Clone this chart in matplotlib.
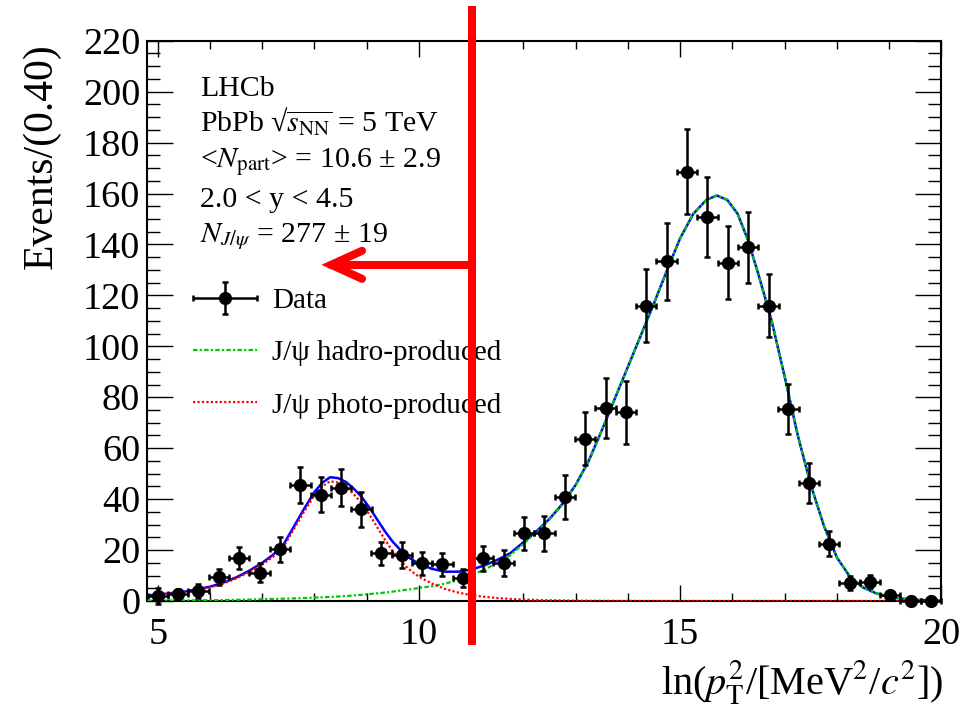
import numpy as np
import matplotlib
matplotlib.use('Agg')
import matplotlib.pyplot as plt
from matplotlib.ticker import MultipleLocator
from matplotlib.legend_handler import HandlerErrorbar
from matplotlib.container import ErrorbarContainer

plt.rcParams['font.family'] = ['Liberation Serif', 'DejaVu Serif']
plt.rcParams['mathtext.fontset'] = 'stix'

# data points (bin centres, counts, errors)
bin_x = [5.00, 5.39, 5.78, 6.17, 6.56, 6.95, 7.34, 7.73, 8.12, 8.51,
         8.90, 9.28, 9.67, 10.06, 10.45, 10.84, 11.23, 11.62, 12.01, 12.40,
         12.79, 13.18, 13.57, 13.96, 14.35, 14.74, 15.13, 15.52, 15.91, 16.30,
         16.69, 17.07, 17.46, 17.85, 18.24, 18.63, 19.02, 19.41, 19.80]
counts = [2.0, 2.6, 3.9, 9.3, 17.0, 11.1, 20.3, 45.5, 41.8, 44.5,
          36.0, 18.7, 18.0, 14.8, 14.4, 9.0, 16.7, 15.0, 26.5, 26.5,
          40.9, 63.7, 75.8, 74.1, 116.0, 133.3, 168.6, 150.7, 132.9, 138.8,
          116.0, 75.4, 46.4, 22.5, 7.2, 7.6, 2.4, 0.0, 0.0]
count_err = [3.0, 2.2, 2.8, 3.2, 4.3, 3.8, 4.9, 7.0, 7.0, 7.2,
             6.8, 4.6, 5.0, 4.5, 4.6, 3.6, 5.0, 5.1, 6.6, 6.8,
             8.6, 10.5, 11.8, 12.4, 14.3, 15.2, 16.8, 15.7, 14.5, 13.9,
             12.4, 9.8, 7.8, 4.9, 2.7, 2.7, 1.5, 0.0, 0.0]
half_bin = 0.195

# fit components
fit_x = [4.8, 5.0, 5.5, 6.0, 6.25, 6.5, 6.75, 7.0, 7.2, 7.4,
         7.6, 7.8, 8.0, 8.15, 8.3, 8.45, 8.6, 8.75, 8.9, 9.05,
         9.2, 9.35, 9.5, 9.65, 9.8, 10.0, 10.25, 10.5, 10.75, 11.0,
         11.25, 11.5, 11.75, 12.0, 12.25, 12.5, 12.75, 13.0, 13.25, 13.5,
         13.75, 14.0, 14.25, 14.5, 14.75, 15.0, 15.25, 15.5, 15.7, 15.9,
         16.1, 16.3, 16.5, 16.75, 17.0, 17.25, 17.5, 17.75, 18.0, 18.25,
         18.5, 18.75, 19.0, 19.25, 19.5, 20.0]
photo = [2.1, 2.4, 3.4, 5.3, 6.8, 8.8, 11.3, 14.3, 17.2, 21.0,
         28.0, 35.0, 41.5, 45.0, 47.0, 46.5, 44.8, 42.0, 38.5, 34.0,
         29.0, 24.0, 19.5, 15.8, 12.6, 9.5, 6.8, 4.7, 3.3, 2.3,
         1.65, 1.15, 0.8, 0.58, 0.4, 0.28, 0.19, 0.12, 0.08, 0.05,
         0.03, 0.02, 0.0, 0.0, 0.0, 0.0, 0.0, 0.0, 0.0, 0.0,
         0.0, 0.0, 0.0, 0.0, 0.0, 0.0, 0.0, 0.0, 0.0, 0.0,
         0.0, 0.0, 0.0, 0.0, 0.0, 0.0]
hadro = [0.1, 0.12, 0.2, 0.3, 0.35, 0.45, 0.55, 0.7, 0.8, 0.9,
         1.0, 1.15, 1.3, 1.45, 1.6, 1.75, 1.95, 2.15, 2.4, 2.7,
         3.0, 3.3, 3.7, 4.1, 4.5, 5.1, 5.8, 6.8, 8.2, 10.0,
         12.3, 15.0, 18.0, 22.5, 27.0, 32.0, 38.0, 45.5, 55.0, 67.0,
         79.5, 92.0, 104.5, 117.0, 130.0, 142.5, 152.0, 157.5, 159.2, 157.5,
         152.0, 141.5, 128.0, 110.0, 88.0, 65.0, 45.5, 29.5, 17.0, 9.5,
         5.3, 3.0, 1.6, 0.9, 0.45, 0.1]
total = np.array(photo) + np.array(hadro)

# red annotation
cut_x = 11.02
cut_y = (-17.3, 233.6)
arrow_y = 132
arrow_tip = 8.32

fig = plt.figure(figsize=(9.67, 7.14), dpi=100)
ax = fig.add_axes([0.1523, 0.1583, 0.8213, 0.7847])

ax.plot(fit_x, total, color='blue', lw=1.8, zorder=2)
ax.plot(fit_x, hadro, color='#00c800', lw=1.6, ls=(0, (2, 1, 1, 1)), zorder=3,
        label='J/ψ hadro-produced')
ax.plot(fit_x, photo, color='red', lw=1.6, ls=(0, (1, 1)), zorder=3,
        label='J/ψ photo-produced')
ax.errorbar(bin_x, counts, yerr=count_err, xerr=half_bin, fmt='o', color='black',
            ms=8.5, elinewidth=1.8, capsize=2.5, capthick=1.8, zorder=4,
            clip_on=False, label='Data')

ax.set_xlim(4.8, 20)
ax.set_ylim(0, 220)
ax.xaxis.set_major_locator(MultipleLocator(5))
ax.xaxis.set_minor_locator(MultipleLocator(1))
ax.yaxis.set_major_locator(MultipleLocator(20))
ax.yaxis.set_minor_locator(MultipleLocator(5))
ax.tick_params(which='both', direction='in', top=True, right=True, width=1, labelsize=27.5)
ax.tick_params(axis='x', which='major', length=11.5, pad=12)
ax.tick_params(axis='x', which='minor', length=5.8)
ax.tick_params(axis='y', which='major', length=18.5, pad=5)
ax.tick_params(axis='y', which='minor', length=9.2)
for s in ax.spines.values():
    s.set_linewidth(1.5)

fig.text(42 / 967, 1 - 43 / 714, 'Events/(0.40)', rotation=90, ha='center', va='top', fontsize=30)
fig.text(943 / 967, 1 - 683 / 714, r'ln($p_{\rm T}^{2}$/[MeV$^{2}$/$c^{2}$])',
         ha='right', va='center', fontsize=29)

info = ['LHCb',
        r'PbPb √$\overline{s_{\rm NN}}$ = 5 TeV',
        r'<$N_{\rm part}$> = 10.6 ± 2.9',
        '2.0 < y < 4.5',
        r'$N_{J/\psi}$ = 277 ± 19']
baselines = [96, 132, 167, 207, 242]
for line, b in zip(info, baselines):
    fig.text(200 / 967, 1 - b / 714, line, ha='left', va='baseline', fontsize=21.5)

handles, labels = ax.get_legend_handles_labels()
order = [labels.index('Data'), labels.index('J/ψ hadro-produced'), labels.index('J/ψ photo-produced')]
ax.legend([handles[i] for i in order], [labels[i] for i in order],
          loc='upper left', bbox_to_anchor=(193 / 967, 1 - 288 / 714),
          bbox_transform=fig.transFigure, frameon=False, fontsize=21,
          handlelength=2.2, handletextpad=0.5, labelspacing=0.88,
          borderpad=0, borderaxespad=0,
          handler_map={ErrorbarContainer: HandlerErrorbar(xerr_size=1.1, yerr_size=0.55)})

# red line + arrow drawn on top
ax.plot([cut_x, cut_x], cut_y, color='red', lw=5.8, solid_capstyle='butt',
        clip_on=False, zorder=10)
ax.plot([arrow_tip, cut_x], [arrow_y, arrow_y], color='red', lw=5.8,
        solid_capstyle='round', clip_on=False, zorder=10)
ax.plot([arrow_tip + 0.59, arrow_tip, arrow_tip + 0.59],
        [arrow_y + 5.5, arrow_y, arrow_y - 5.5], color='red', lw=5.8,
        solid_capstyle='round', solid_joinstyle='miter', clip_on=False, zorder=10)

fig.savefig('out.png', dpi=100)
